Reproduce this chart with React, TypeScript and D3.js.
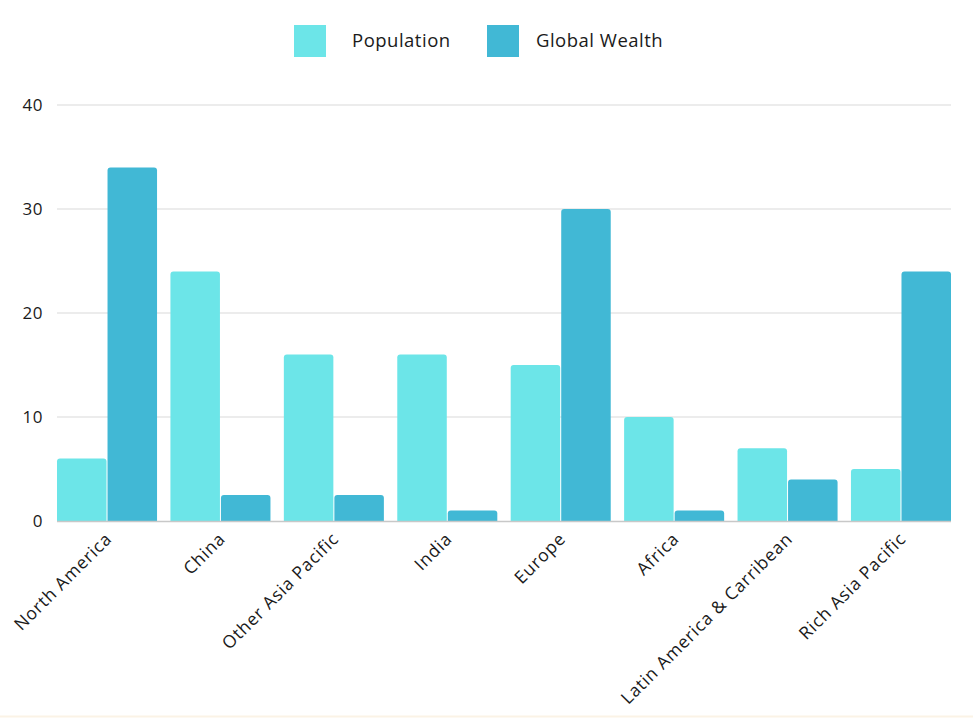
import * as d3 from "d3";
import React, { useEffect, useRef } from "react";

const regions = [
  "North America",
  "China",
  "Other Asia Pacific",
  "India",
  "Europe",
  "Africa",
  "Latin America & Carribean",
  "Rich Asia Pacific",
];
const population = [6, 24, 16, 16, 15, 10, 7, 5];
const globalWealth = [34, 2.5, 2.5, 1, 30, 1, 4, 24];
const seriesNames = ["Population", "Global Wealth"];
const seriesColors = ["#6ce5e8", "#41b8d5"];
const yTicks = [0, 10, 20, 30, 40];

const W = 973;
const H = 718;
const FONT = "'Open Sans', 'DejaVu Sans', sans-serif";

const App: React.FC = () => {
  const svgRef = useRef<SVGSVGElement>(null);

  useEffect(() => {
    document.body.style.margin = "0";
    const svg = d3.select(svgRef.current);
    svg.selectAll("*").remove();

    const left = 57;
    const right = 951;
    const top = 105;
    const bottom = 521;

    const x = d3
      .scaleBand<string>()
      .domain(regions)
      .range([left, right])
      .paddingInner(0.118)
      .paddingOuter(0);
    const x1 = d3
      .scaleBand<string>()
      .domain(seriesNames)
      .range([0, x.bandwidth()])
      .paddingInner(0.02);
    const y = d3.scaleLinear().domain([0, 40]).range([bottom, top]);

    // grid
    svg
      .append("g")
      .selectAll("line")
      .data(yTicks.filter((t) => t > 0))
      .join("line")
      .attr("x1", left)
      .attr("x2", right)
      .attr("y1", (d) => y(d))
      .attr("y2", (d) => y(d))
      .attr("stroke", "#d9d9d9")
      .attr("stroke-width", 1);

    svg
      .append("g")
      .selectAll("text")
      .data(yTicks)
      .join("text")
      .attr("x", 43)
      .attr("y", (d) => y(d))
      .attr("dy", "0.35em")
      .attr("text-anchor", "end")
      .attr("font-family", FONT)
      .attr("font-size", 17)
      .attr("font-weight", 500)
      .attr("letter-spacing", 0.5)
      .attr("fill", "#1a1a1a")
      .text((d) => d);

    const rows = regions.map((r, i) => ({
      region: r,
      values: [population[i], globalWealth[i]],
    }));

    const roundTop = (x0: number, y0: number, w: number, h: number, r: number) => {
      const rr = Math.min(r, h, w / 2);
      return `M${x0},${y0 + h}V${y0 + rr}Q${x0},${y0} ${x0 + rr},${y0}H${x0 + w - rr}Q${x0 + w},${y0} ${x0 + w},${y0 + rr}V${y0 + h}Z`;
    };

    svg
      .append("g")
      .selectAll("g")
      .data(rows)
      .join("g")
      .attr("transform", (d) => `translate(${x(d.region)},0)`)
      .selectAll("path")
      .data((d) => d.values.map((v, i) => ({ v, s: seriesNames[i], i })))
      .join("path")
      .attr("fill", (d) => seriesColors[d.i])
      .attr("d", (d) =>
        roundTop(x1(d.s) || 0, y(d.v), x1.bandwidth(), bottom - y(d.v), 3)
      );

    // baseline
    svg
      .append("line")
      .attr("x1", left)
      .attr("x2", right)
      .attr("y1", bottom + 0.5)
      .attr("y2", bottom + 0.5)
      .attr("stroke", "#c8c8c8")
      .attr("stroke-width", 1.5);

    // x labels
    svg
      .append("g")
      .selectAll("text")
      .data(regions)
      .join("text")
      .attr("transform", (d) => `translate(${(x(d) || 0) + x.bandwidth() / 2 + 6},${bottom + 19}) rotate(-45)`)
      .attr("text-anchor", "end")
      .attr("font-family", FONT)
      .attr("font-size", 17.5)
      .attr("font-weight", 500)
      .attr("letter-spacing", 0.8)
      .attr("fill", "#1a1a1a")
      .text((d) => d);

    // legend
    const legendItems = [
      { name: seriesNames[0], color: seriesColors[0], sx: 294, tx: 352 },
      { name: seriesNames[1], color: seriesColors[1], sx: 487, tx: 536 },
    ];
    const lg = svg.append("g");
    lg.selectAll("rect")
      .data(legendItems)
      .join("rect")
      .attr("x", (d) => d.sx)
      .attr("y", 25)
      .attr("width", 32)
      .attr("height", 32)
      .attr("fill", (d) => d.color);
    lg.selectAll("text")
      .data(legendItems)
      .join("text")
      .attr("x", (d) => d.tx)
      .attr("y", 41)
      .attr("dy", "0.35em")
      .attr("font-family", FONT)
      .attr("font-size", 18.5)
      .attr("font-weight", 500)
      .attr("letter-spacing", 0.5)
      .attr("fill", "#1a1a1a")
      .text((d) => d.name);

    svg
      .append("line")
      .attr("x1", 0)
      .attr("x2", W)
      .attr("y1", 716.5)
      .attr("y2", 716.5)
      .attr("stroke", "#fbf3e6")
      .attr("stroke-width", 2);
  }, []);

  return (
    <svg
      ref={svgRef}
      width={W}
      height={H}
      style={{ display: "block", background: "#ffffff" }}
    />
  );
};

export default App;
